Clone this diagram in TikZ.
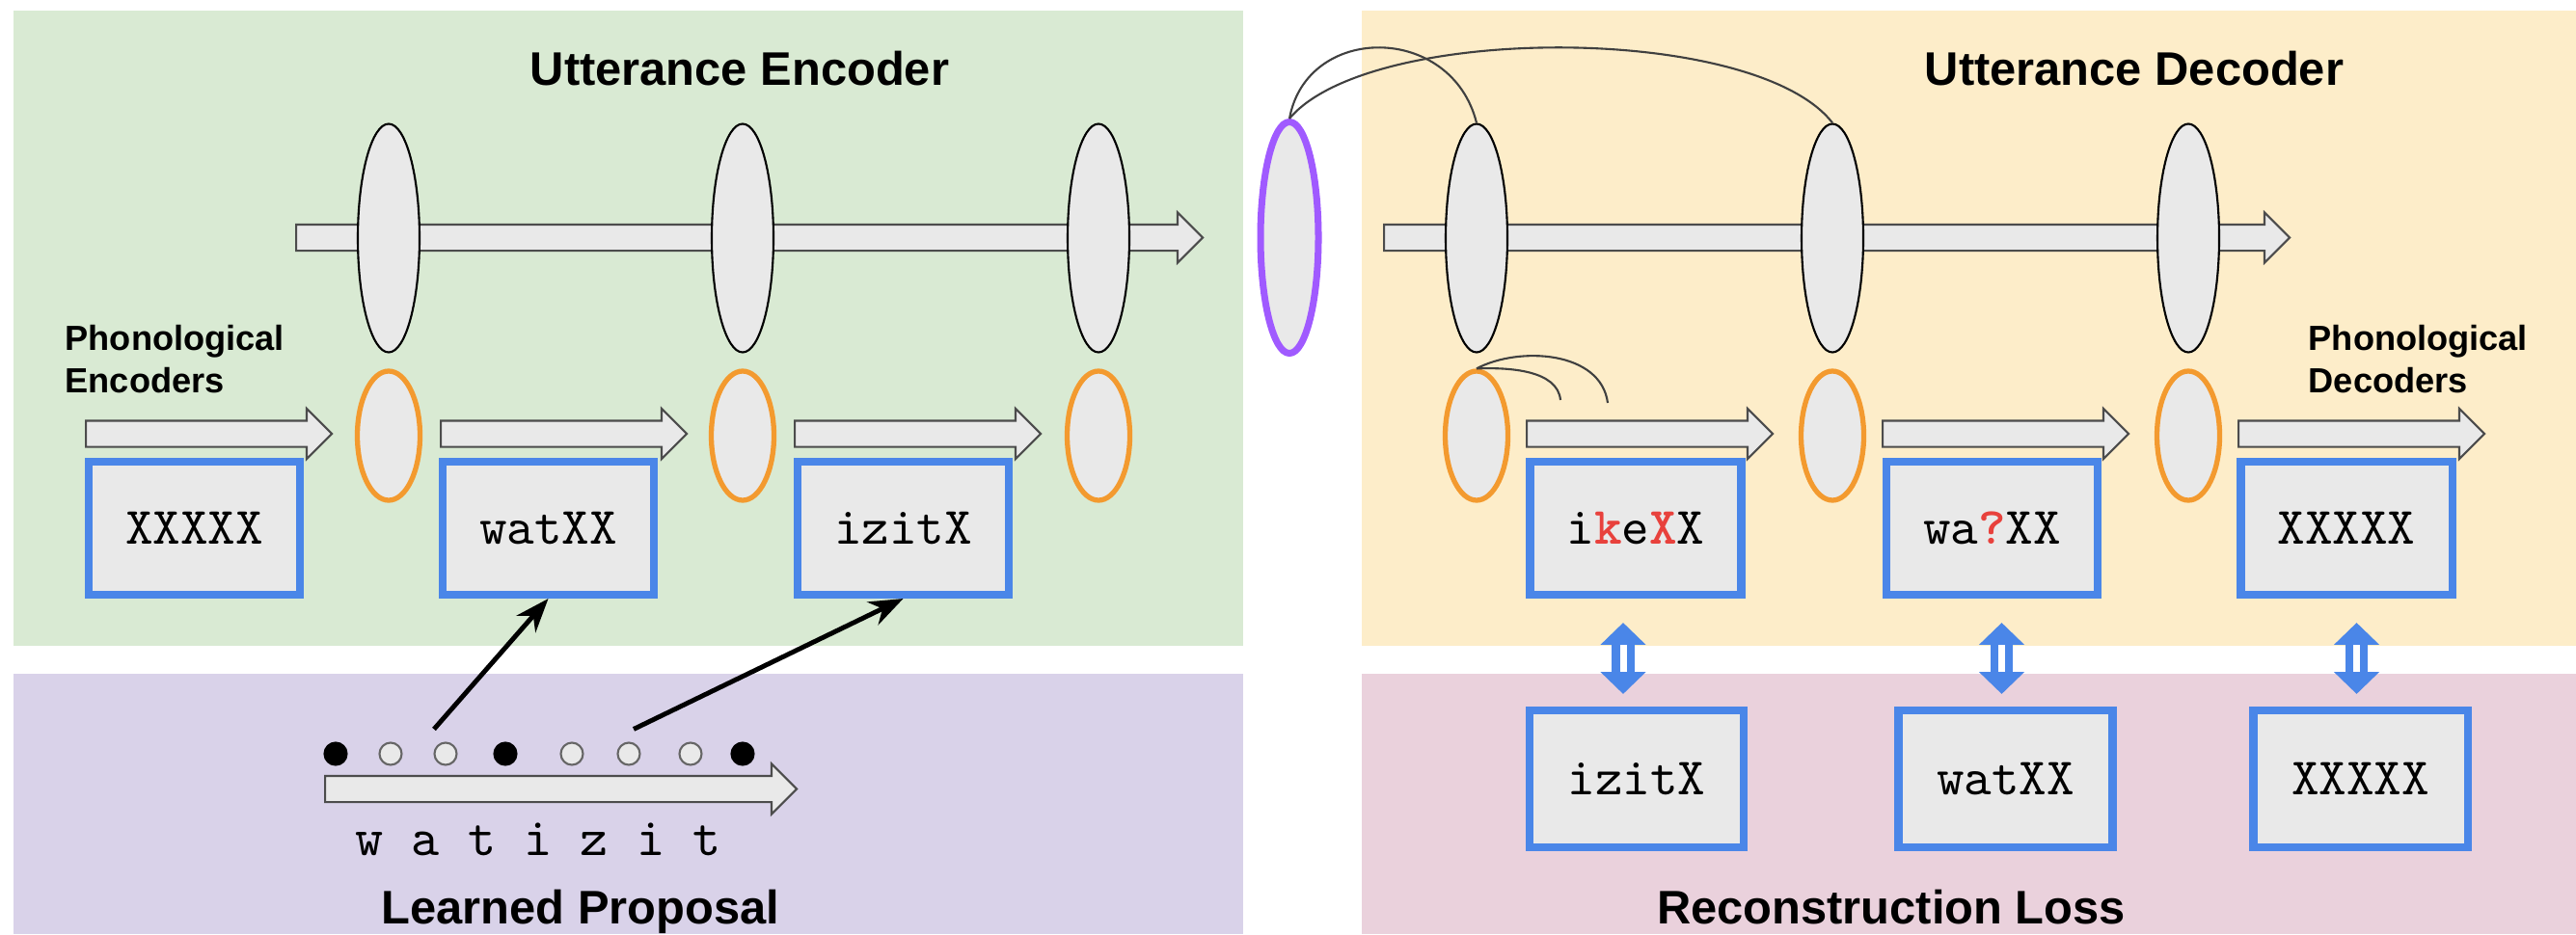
\documentclass[tikz,border=0pt]{standalone}
\usepackage{fontspec}
\setmainfont{Liberation Sans}
\setmonofont{lmmono10-regular.otf}[BoldFont=lmmonolt10-bold.otf]
\usetikzlibrary{shapes.geometric,shapes.arrows,arrows.meta,calc}

\definecolor{panelgreen}{HTML}{D9EAD3}
\definecolor{panelyellow}{HTML}{FDEDC9}
\definecolor{panelpurple}{HTML}{D9D2E9}
\definecolor{panelpink}{HTML}{EAD1DC}
\definecolor{cellgray}{HTML}{E9E9E9}
\definecolor{gblue}{HTML}{4A86E8}
\definecolor{gorange}{HTML}{F39A2F}
\definecolor{gpurple}{HTML}{A05AFF}
\definecolor{wordred}{HTML}{E8413C}

\tikzset{
  heading/.style={font=\bfseries\fontsize{13.9}{16}\selectfont, anchor=base},
  phonlabel/.style={font=\bfseries\fontsize{10.3}{12.5}\selectfont, align=left, anchor=north west, inner sep=0pt},
  cell/.style={ellipse, draw=black, line width=0.6pt, fill=cellgray, minimum width=0.64cm, minimum height=2.37cm, inner sep=0pt},
  embed/.style={ellipse, draw=gorange, line width=1.5pt, fill=cellgray, minimum width=0.65cm, minimum height=1.34cm, inner sep=0pt},
  flow/.style={single arrow, draw=black!70, line width=0.6pt, fill=cellgray, inner xsep=0pt, inner ysep=0.125cm, single arrow head extend=0.125cm, single arrow tip angle=90, anchor=tail},
  wordbox/.style={draw=gblue, line width=2.3pt, fill=cellgray, minimum width=2.19cm, minimum height=1.38cm, inner sep=0pt, font=\ttfamily\fontsize{15.5}{18}\selectfont},
  tok/.style={circle, draw=black!60, line width=0.6pt, fill=cellgray, minimum size=0.23cm, inner sep=0pt},
  boundtok/.style={tok, draw=black, fill=black},
  propose/.style={line width=1.4pt, -{Stealth[length=10pt,width=7.5pt]}},
  recon/.style={draw=gblue, line width=2.3pt, double=white, double distance=2pt, {Triangle[length=6.5pt,width=13pt]}-{Triangle[length=6.5pt,width=13pt]}},
  link/.style={draw=black!75, line width=0.6pt},
}

\begin{document}
\begin{tikzpicture}
\useasboundingbox (0,0) rectangle (26.71,9.69);

% panels
\fill[panelgreen] (0.14,2.99) rectangle (12.89,9.58);
\fill[panelpurple] (0.14,0) rectangle (12.89,2.70);
\fill[panelyellow] (14.12,2.99) rectangle (26.71,9.58);
\fill[panelpink] (14.12,0) rectangle (26.71,2.70);

\node[heading] at (7.67,8.805) {Utterance Encoder};
\node[heading] at (22.13,8.805) {Utterance Decoder};
\node[heading] at (6.02,0.11) {Learned Proposal};
\node[heading] at (19.61,0.11) {Reconstruction Loss};

\node[phonlabel] at (0.67,6.32) {Phonological\\Encoders};
\node[phonlabel] at (23.93,6.32) {Phonological\\Decoders};

% utterance level
\node[flow, minimum height=9.40cm] (encflow) at (3.06,7.225) {};
\node[flow, minimum height=9.39cm] (decflow) at (14.34,7.225) {};
\foreach \x [count=\i] in {4.03,7.70,11.39} {
  \node[cell] (ec\i) at (\x,7.22) {};
  \node[embed] (ee\i) at (\x,5.17) {};
}
\foreach \x [count=\i] in {15.31,19.00,22.69} {
  \node[cell] (dc\i) at (\x,7.22) {};
  \node[embed] (de\i) at (\x,5.17) {};
}
\node[ellipse, draw=gpurple, line width=2pt, fill=cellgray, minimum width=0.60cm, minimum height=2.40cm, inner sep=0pt] (z) at (13.37,7.225) {};

% phonological level
\foreach \x in {0.88,4.56,8.23,15.82,19.51,23.20}
  \node[flow, minimum height=2.55cm] at (\x,5.19) {};

\node[wordbox] (eb1) at (2.015,4.21) {XXXXX};
\node[wordbox] (eb2) at (5.685,4.21) {watXX};
\node[wordbox] (eb3) at (9.365,4.21) {izitX};
\node[wordbox] (db1) at (16.96,4.21) {i\textbf{\color{wordred}k}e\textbf{\color{wordred}X}X};
\node[wordbox] (db2) at (20.655,4.21) {wa\textbf{\color{wordred}?}XX};
\node[wordbox] (db3) at (24.33,4.21) {XXXXX};

\node[wordbox, minimum width=2.22cm, minimum height=1.42cm] (rb1) at (16.97,1.61) {izitX};
\node[wordbox, minimum width=2.22cm, minimum height=1.42cm] (rb2) at (20.795,1.61) {watXX};
\node[wordbox, minimum width=2.22cm, minimum height=1.42cm] (rb3) at (24.475,1.61) {XXXXX};

\foreach \i/\s in {1/-0.14,2/-0.04,3/-0.04}
  \draw[recon, shorten <=0.25cm, shorten >=0.13cm] ($(rb\i.north |- db\i.south)+(\s,0)$) -- ($(rb\i.north)+(\s,0)$);

% attention links
\draw[link] (z.north) .. controls (13.55,9.45) and (15.05,9.45) .. (dc1.north);
\draw[link] (z.north) .. controls (14.2,9.45) and (18.2,9.45) .. (dc2.north);
\coordinate (k1) at (16.18,5.54);
\coordinate (k2) at (16.67,5.51);
\draw[link] (de1.north) .. controls (15.65,5.88) and (16.15,5.85) .. (k1);
\draw[link] (de1.north) .. controls (15.75,6.1) and (16.6,6.05) .. (k2);

% proposal
\node[flow, minimum height=4.89cm] (segflow) at (3.36,1.505) {};
\foreach \x/\s [count=\i] in {3.48/boundtok,4.05/tok,4.62/tok,5.24/boundtok,5.93/tok,6.52/tok,7.16/tok,7.70/boundtok}
  \node[\s] (d\i) at (\x,1.87) {};
\node[anchor=base, font=\ttfamily\fontsize{15.8}{18}\selectfont] (chars) at (5.58,0.82) {w a t i z i t};

\draw[propose] ([xshift=-0.12cm,yshift=0.13cm]d3.north) -- (eb2.south);
\draw[propose] ([xshift=0.05cm,yshift=0.13cm]d6.north) -- (eb3.south);
\end{tikzpicture}
\end{document}
